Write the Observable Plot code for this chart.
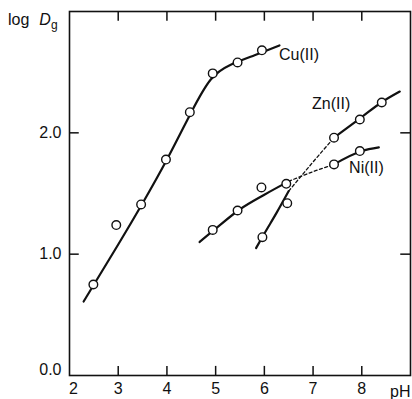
<!DOCTYPE html>
<html><head><meta charset="utf-8">
<script src="https://cdn.jsdelivr.net/npm/d3@7"></script>
<script src="https://cdn.jsdelivr.net/npm/@observablehq/plot@0.6"></script>
<style>body{margin:0;background:#fff}</style>
</head><body><div id="chart"></div>
<script>
// Measured points (open circles)
const cuPH   = [2.49, 2.96, 3.47, 3.98, 4.47, 4.94, 5.45, 5.95];
const cuLogD = [0.75, 1.24, 1.41, 1.78, 2.17, 2.49, 2.58, 2.68];
const znPH   = [5.96, 6.47, 7.43, 7.96, 8.41];
const znLogD = [1.14, 1.42, 1.96, 2.11, 2.25];
const niPH   = [4.94, 5.45, 5.94, 6.45, 7.43, 7.96];
const niLogD = [1.20, 1.36, 1.55, 1.58, 1.74, 1.85];

// Drawn curves
const cuCurvePH   = [2.29, 3.0, 3.5, 4.0, 4.5, 4.9, 5.3, 5.8, 6.31];
const cuCurveLogD = [0.61, 1.08, 1.42, 1.78, 2.17, 2.44, 2.56, 2.64, 2.72];
const znLowPH     = [5.83, 6.0, 6.25, 6.5];
const znLowLogD   = [1.05, 1.17, 1.34, 1.52];
const znDashPH    = [6.5, 7.0, 7.43];
const znDashLogD  = [1.52, 1.76, 1.96];
const znHighPH    = [7.43, 8.0, 8.4, 8.78];
const znHighLogD  = [1.96, 2.13, 2.25, 2.34];
const niLowPH     = [4.67, 5.0, 5.5, 6.0, 6.5];
const niLowLogD   = [1.10, 1.21, 1.37, 1.49, 1.60];
const niDashPH    = [6.5, 7.0, 7.43];
const niDashLogD  = [1.60, 1.68, 1.74];
const niHighPH    = [7.43, 8.0, 8.35];
const niHighLogD  = [1.74, 1.85, 1.88];

// Series labels
const labels      = ["Cu(II)", "Zn(II)", "Ni(II)"];
const labelPH     = [6.3, 6.98, 7.74];
const labelLogD   = [2.64, 2.24, 1.71];

// Ticks
const xTicks = [3, 4, 5, 6, 7, 8];
const yTicks = [1, 2];

const pts = (xs, ys) => xs.map((x, i) => ({x, y: ys[i]}));
const font = "Liberation Sans, Arial, sans-serif";

const chart = Plot.plot({
  width: 412, height: 399,
  marginLeft: 69, marginRight: 2, marginTop: 11, marginBottom: 24,
  style: {fontFamily: font, fontSize: "16px", background: "#fff", color: "#111"},
  x: {domain: [2, 9]},
  y: {domain: [0, 3]},
  marks: [
    // inward ticks
    Plot.ruleX(xTicks, {x: d => d, y1: 0, y2: 0.075, stroke: "#111", strokeWidth: 1.5}),
    Plot.ruleX(xTicks, {x: d => d, y1: 3, y2: 2.92, stroke: "#111", strokeWidth: 1.5}),
    Plot.ruleY(yTicks, {y: d => d, x1: 2, x2: 2.2, stroke: "#111", strokeWidth: 1.5}),
    Plot.ruleY(yTicks, {y: d => d, x1: 9, x2: 8.8, stroke: "#111", strokeWidth: 1.5}),
    Plot.frame({stroke: "#111", strokeWidth: 1.6}),
    // curves
    Plot.line(pts(cuCurvePH, cuCurveLogD), {x: "x", y: "y", curve: "natural", stroke: "#111", strokeWidth: 2.2}),
    Plot.line(pts(znLowPH, znLowLogD), {x: "x", y: "y", curve: "monotone-x", stroke: "#111", strokeWidth: 2.2}),
    Plot.line(pts(znDashPH, znDashLogD), {x: "x", y: "y", curve: "monotone-x", stroke: "#111", strokeWidth: 1.3, strokeDasharray: "3,2.5"}),
    Plot.line(pts(znHighPH, znHighLogD), {x: "x", y: "y", curve: "monotone-x", stroke: "#111", strokeWidth: 2.2}),
    Plot.line(pts(niLowPH, niLowLogD), {x: "x", y: "y", curve: "monotone-x", stroke: "#111", strokeWidth: 2.2}),
    Plot.line(pts(niDashPH, niDashLogD), {x: "x", y: "y", curve: "monotone-x", stroke: "#111", strokeWidth: 1.3, strokeDasharray: "3,2.5"}),
    Plot.line(pts(niHighPH, niHighLogD), {x: "x", y: "y", curve: "monotone-x", stroke: "#111", strokeWidth: 2.2}),
    // points
    Plot.dot(pts(cuPH, cuLogD), {x: "x", y: "y", r: 4.3, fill: "white", stroke: "#111", strokeWidth: 1.4}),
    Plot.dot(pts(znPH, znLogD), {x: "x", y: "y", r: 4.3, fill: "white", stroke: "#111", strokeWidth: 1.4}),
    Plot.dot(pts(niPH, niLogD), {x: "x", y: "y", r: 4.3, fill: "white", stroke: "#111", strokeWidth: 1.4}),
    // series labels
    Plot.text(labels, {x: (d, i) => labelPH[i], y: (d, i) => labelLogD[i], text: d => d, textAnchor: "start", fontSize: 16, fill: "#111"}),
    // axes labels
    Plot.axisX({ticks: xTicks, tickSize: 0, tickPadding: 7, tickFormat: d => d, fontSize: 16, label: null}),
    Plot.axisX({ticks: [2], tickSize: 0, tickPadding: 7, dx: 4, tickFormat: d => d, fontSize: 16, label: null}),
    Plot.axisY({ticks: yTicks, tickSize: 0, tickPadding: 8, tickFormat: d => d.toFixed(1), fontSize: 16, label: null}),
    Plot.axisY({ticks: [0], tickSize: 0, tickPadding: 8, dy: -6, tickFormat: d => d.toFixed(1), fontSize: 16, label: null}),
    Plot.text(["pH"], {x: 9, y: 0, text: d => d, textAnchor: "end", dy: 16, fontSize: 16, fill: "#111"})
  ]
});

const svg = d3.select(chart);
const t = svg.append("text").attr("x", 8).attr("y", 25).attr("text-anchor", "start")
  .attr("font-size", 16).attr("fill", "#111").attr("font-family", font);
t.append("tspan").text("log");
t.append("tspan").attr("dx", 10).attr("font-style", "italic").text("D");
t.append("tspan").attr("font-size", 12).attr("dy", 4).text("g");
document.getElementById("chart").appendChild(chart);
</script>
</body></html>
